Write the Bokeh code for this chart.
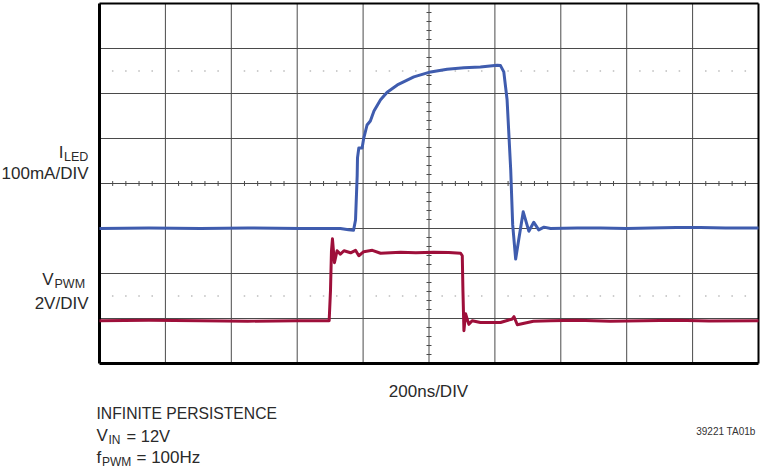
from bokeh.plotting import figure
from bokeh.models import Label
from bokeh.embed import file_html
from bokeh.resources import INLINE

# ---------------- data ----------------
# time axis in ns (200ns/DIV, 10 divisions)
iled_t = [0, 150, 306, 450, 610, 731, 756, 771, 777, 782, 783, 787, 797, 802, 812, 822, 833,
          853, 873, 904, 954, 1005, 1055, 1106, 1156, 1207, 1217, 1227, 1237, 1248, 1254,
          1263, 1272, 1286, 1303, 1318, 1333, 1349, 1369, 1450, 1521, 1600, 1672, 1750, 1824, 1900, 2000]
# LED current in mA (100mA/DIV), relative to trace baseline
iled_ma = [0, 1, 0, 1, 0, 0, -3, -4, 19, 117, 157, 179, 179, 201, 230, 239, 261,
           286, 303, 319, 337, 348, 354, 357, 359, 363, 362, 348, 286, 130, 8,
           -68, -26, 37, -6, 14, -3, 3, 0, 1, 1, 0, 1, 2, 2, 1, 1]

vpwm_t = [0, 150, 306, 450, 600, 697, 701, 704, 707, 713, 721, 731, 742, 762, 777, 787, 802,
          828, 853, 914, 960, 1014, 1060, 1096, 1101, 1103, 1106, 1111, 1116, 1121, 1131,
          1156, 1217, 1253, 1258, 1268, 1317, 1369, 1450, 1550, 1650, 1750, 1850, 2000]
# PWM voltage in V (2V/DIV), relative to trace baseline
vpwm_v = [0, 0.02, 0, -0.02, 0, 0, 1.33, 3.1, 3.64, 2.58, 3.11, 2.96, 3.11, 3.02, 3.13, 2.89, 3.07,
          3.13, 3.0, 3.04, 3.02, 3.04, 3.03, 3.0, 2.89, 1.33, -0.44, 0.31, 0.07, -0.16, 0,
          -0.08, -0.08, 0.08, 0.18, -0.18, -0.02, 0, 0.02, -0.02, 0, 0.02, -0.01, 0]

ILED_SCALE = 100.0   # mA per division
VPWM_SCALE = 2.0     # V per division
ILED_ZERO_DIV = 3.0  # screen division of I_LED baseline
VPWM_ZERO_DIV = 0.95 # screen division of V_PWM baseline

N_XDIV = 10
N_YDIV = 8
NS_PER_DIV = 200
T_END = N_XDIV * NS_PER_DIV

# ---------------- page geometry (pixels) ----------------
W, H = 760, 469
FX0, FY0, PXX, PXY = 99.0, 363.0, 65.9, 45.0   # scope screen origin and px per division


def X(px):
    return (px - FX0) / PXX * NS_PER_DIV


def Y(py):
    return (FY0 - py) / PXY


# the plot frame covers the whole canvas; the scope screen is drawn inside it
p = figure(width=W, height=H, x_range=(X(0), X(W)), y_range=(Y(H), Y(0)),
           output_backend="svg", toolbar_location=None,
           x_axis_type=None, y_axis_type=None, min_border=0)
p.background_fill_color = "white"
p.border_fill_color = "white"
p.outline_line_color = None

GRID = "#4a4a4a"
# major graticule
gx = [i * NS_PER_DIV for i in range(1, N_XDIV)]
gy = [j for j in range(1, N_YDIV)]
p.segment(x0=gx, y0=[0] * len(gx), x1=gx, y1=[N_YDIV] * len(gx), line_color=GRID, line_width=1)
p.segment(x0=[0] * len(gy), y0=gy, x1=[T_END] * len(gy), y1=gy, line_color=GRID, line_width=1)

# minor ticks on the centre lines (5 per division)
cx = T_END / 2
cy = N_YDIV / 2
tx = [k * NS_PER_DIV / 5 for k in range(1, N_XDIV * 5) if k % 5]
ty = [k / 5 for k in range(1, N_YDIV * 5) if k % 5]
p.segment(x0=tx, y0=[cy - 0.055] * len(tx), x1=tx, y1=[cy + 0.055] * len(tx),
          line_color=GRID, line_width=1)
p.segment(x0=[cx - 7.6] * len(ty), y0=ty, x1=[cx + 7.6] * len(ty), y1=ty,
          line_color=GRID, line_width=1)

# faint dotted marker lines
for yy in (6.5, 1.5):
    p.scatter(x=tx, y=[yy] * len(tx), marker="square", size=1.5,
              color="#bcbcbc", line_color=None)

# screen border: heavier on left and bottom
p.segment(x0=[0, 0], y0=[0, 0], x1=[0, T_END], y1=[N_YDIV, 0], line_color="black", line_width=3)
p.segment(x0=[0, T_END], y0=[N_YDIV, 0], x1=[T_END, T_END], y1=[N_YDIV, N_YDIV],
          line_color="black", line_width=2)

# traces
p.line(vpwm_t, [VPWM_ZERO_DIV + v / VPWM_SCALE for v in vpwm_v],
       line_color="#9e0f3a", line_width=3, line_join="round")
p.line(iled_t, [ILED_ZERO_DIV + i / ILED_SCALE for i in iled_ma],
       line_color="#3f5cae", line_width=3, line_join="round")

# ---------------- texts ----------------
FONT = "Liberation Sans"
TXT = "#2a2a2a"


def lab(px, py, text, size, align="left", color=TXT):
    p.add_layout(Label(x=X(px), y=Y(py), text=text, text_font=FONT, text_font_size=size,
                       text_color=color, text_align=align, text_baseline="alphabetic"))


lab(63, 152, "I", "17px", "right")
lab(63.5, 156, "LED", "12.5px")
lab(88, 173, "100mA/DIV", "17px", "right")
lab(53, 279, "V", "17px", "right")
lab(54, 283, "PWM", "12.5px")
lab(88, 303, "2V/DIV", "17px", "right")
lab(428, 391, "200ns/DIV", "17px", "center")
lab(96, 413, "INFINITE PERSISTENCE", "15.7px")
lab(96, 435, "V", "17px")
lab(108, 439, "IN", "12px")
lab(126, 435, "= 12V", "16.5px")
lab(96, 457, "f", "17px")
lab(101.5, 461, "PWM", "12px")
lab(136, 457, "= 100Hz", "17px")
lab(755, 431, "39221 TA01b", "10px", "right", "#333333")

open("out.html", "w").write(file_html(p, INLINE))
